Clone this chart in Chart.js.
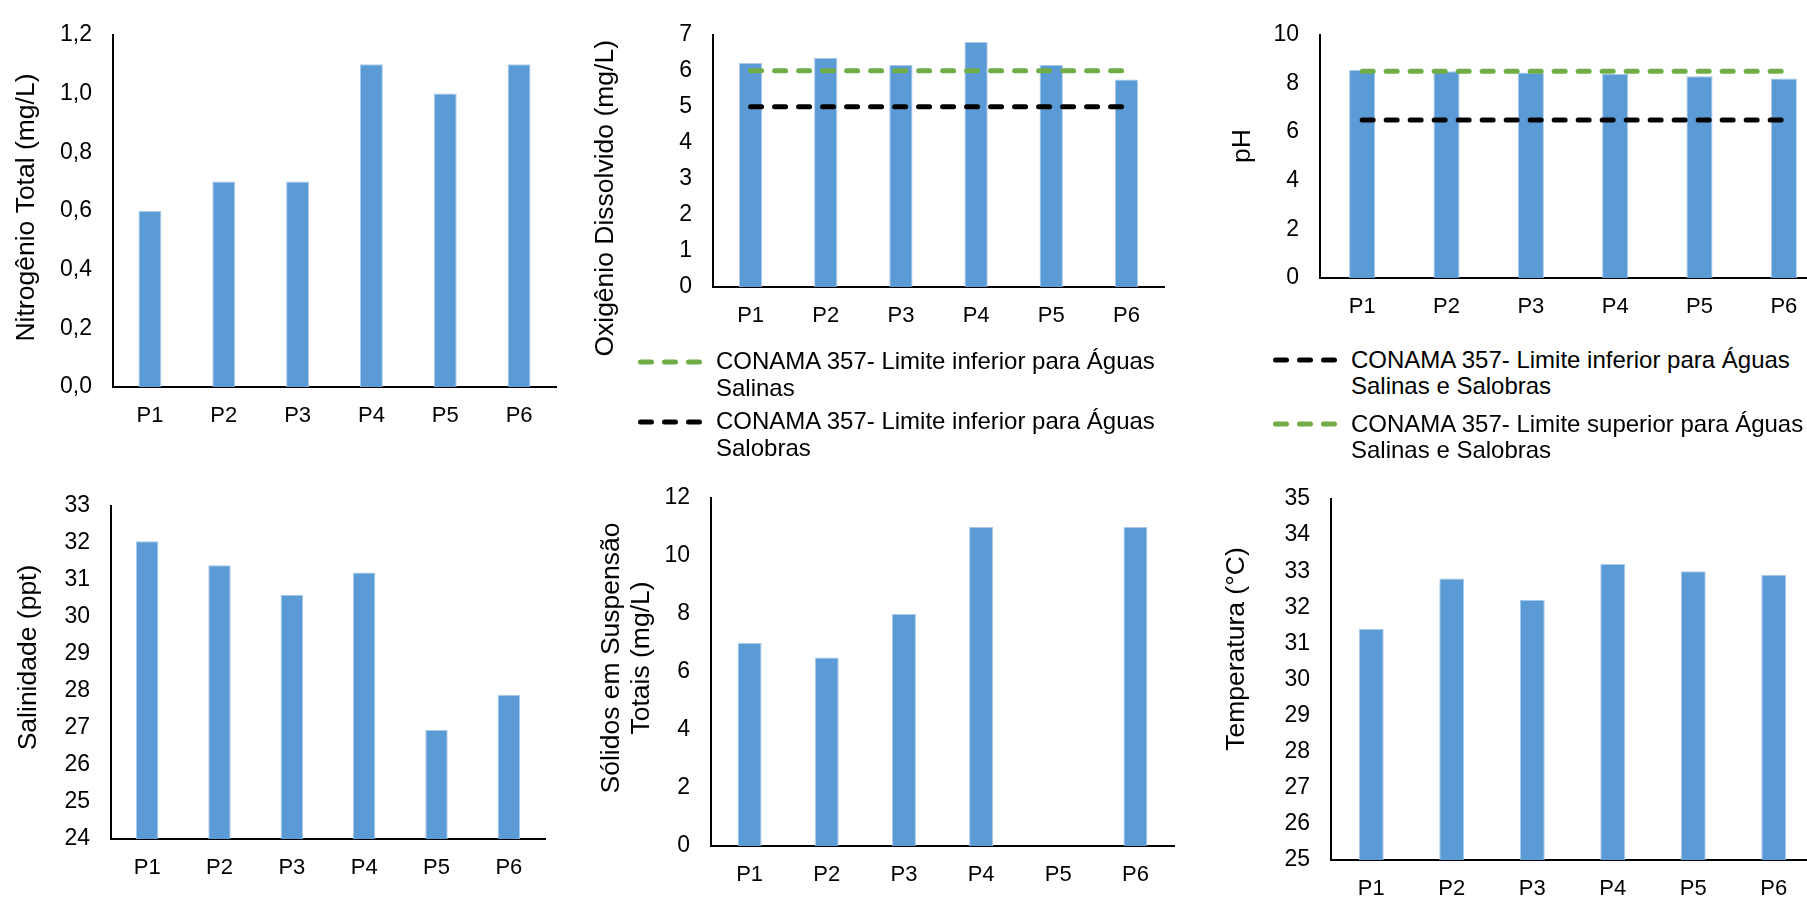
<!DOCTYPE html>
<html lang="pt">
<head>
<meta charset="utf-8">
<title>Parâmetros de qualidade da água – P1 a P6</title>
<script src="https://cdn.jsdelivr.net/npm/chart.js@4.4.1/dist/chart.umd.min.js"></script>
<style>
  html, body { margin: 0; padding: 0; background: #ffffff; }
  body {
    width: 1807px; height: 899px; overflow: hidden; position: relative;
    font-family: "Liberation Sans", Arial, sans-serif; color: #000;
  }
  canvas { position: absolute; }
  .leg-text { position: absolute; font-size: 24px; line-height: 26.7px; white-space: nowrap; }
  .leg-line { position: absolute; }
</style>
</head>
<body>
<script>
// Sampling points
const categories = ['P1', 'P2', 'P3', 'P4', 'P5', 'P6'];

// Measured values per point
const nitrogenioTotal    = [0.6, 0.7, 0.7, 1.1, 1.0, 1.1];
const oxigenioDissolvido = [6.22, 6.36, 6.16, 6.8, 6.16, 5.76];
const phMedido           = [8.55, 8.5, 8.45, 8.4, 8.3, 8.2];
const salinidade         = [32.05, 31.4, 30.6, 31.2, 26.95, 27.9];
const solidosSuspensos   = [7, 6.5, 8, 11, 0, 11];
const temperatura        = [31.4, 32.8, 32.2, 33.2, 33.0, 32.9];

// CONAMA 357 reference limits
const odLimiteSalinas  = [6, 6, 6, 6, 6, 6];
const odLimiteSalobras = [5, 5, 5, 5, 5, 5];
const phLimiteInferior = [6.5, 6.5, 6.5, 6.5, 6.5, 6.5];
const phLimiteSuperior = [8.5, 8.5, 8.5, 8.5, 8.5, 8.5];

// Y axis ranges: [min, max, step]
const eixoNitrogenio  = [0, 1.2, 0.2];
const eixoOxigenio    = [0, 7, 1];
const eixoPh          = [0, 10, 2];
const eixoSalinidade  = [24, 33, 1];
const eixoSolidos     = [0, 12, 2];
const eixoTemperatura = [25, 35, 1];

// Axis titles (one entry per text line)
const tituloNitrogenio  = ['Nitrogênio Total (mg/L)'];
const tituloOxigenio    = ['Oxigênio Dissolvido (mg/L)'];
const tituloPh          = ['pH'];
const tituloSalinidade  = ['Salinidade (ppt)'];
const tituloSolidos     = ['Sólidos em Suspensão', 'Totais (mg/L)'];
const tituloTemperatura = ['Temperatura (°C)'];

// Legend texts (one entry per text line)
const rotuloOdSalinas  = ['CONAMA 357- Limite inferior para Águas', 'Salinas'];
const rotuloOdSalobras = ['CONAMA 357- Limite inferior para Águas', 'Salobras'];
const rotuloPhInferior = ['CONAMA 357- Limite inferior para Águas', 'Salinas e Salobras'];
const rotuloPhSuperior = ['CONAMA 357- Limite superior para Águas', 'Salinas e Salobras'];

const BLUE = '#5B9BD5';
const GREEN = '#70AD47';
const BLACK = '#000000';
const FONT = '"Liberation Sans", Arial, sans-serif';
const DASH = [11, 13];

Chart.defaults.font.family = FONT;
Chart.defaults.color = '#000';

// Rotated y-axis title, placed by baseline x and centre y
const sideTitle = {
  id: 'sideTitle',
  afterDraw(chart) {
    const spec = chart.config.options.sideTitleSpec;
    if (!spec) return;
    const ctx = chart.ctx;
    ctx.save();
    ctx.fillStyle = '#000';
    ctx.font = '26.5px ' + FONT;
    ctx.textAlign = 'center';
    ctx.textBaseline = 'alphabetic';
    spec.lines.forEach((t, i) => {
      ctx.save();
      ctx.translate(spec.xs[i], spec.y);
      ctx.rotate(-Math.PI / 2);
      ctx.fillText(t, 0, 0);
      ctx.restore();
    });
    ctx.restore();
  }
};

function makePanel(p) {
  const canvas = document.createElement('canvas');
  canvas.width = p.cw; canvas.height = p.ch;
  canvas.style.left = p.cx + 'px'; canvas.style.top = p.cy + 'px';
  canvas.style.width = p.cw + 'px'; canvas.style.height = p.ch + 'px';
  document.body.appendChild(canvas);

  const datasets = [];
  (p.limits || []).forEach(l => datasets.push({
    type: 'line', label: l.label.join(' '), data: l.data,
    borderColor: l.color, backgroundColor: l.color, borderWidth: 5,
    borderDash: DASH, borderCapStyle: 'round', pointRadius: 0,
    fill: false, tension: 0, order: 1
  }));
  datasets.push({
    type: 'bar', label: p.title.join(' '), data: p.values,
    backgroundColor: BLUE, borderColor: '#a9c9ea', borderWidth: 1,
    barPercentage: 0.31, categoryPercentage: 1, order: 2
  });

  const [yMin, yMax, yStep] = p.axis;
  new Chart(canvas, {
    type: 'bar',
    data: { labels: categories, datasets },
    options: {
      responsive: false,
      animation: false,
      devicePixelRatio: 1,
      layout: { padding: { left: 0, top: p.T - p.cy, right: p.cx + p.cw - p.R, bottom: p.cy + p.ch - p.B - 40 } },
      plugins: { legend: { display: false }, tooltip: { enabled: false } },
      sideTitleSpec: { lines: p.title, xs: p.titleX.map(v => v - p.cx), y: p.titleY - p.cy },
      scales: {
        x: {
          grid: { display: false, drawTicks: false },
          border: { display: true, color: '#000', width: 2 },
          ticks: { padding: 16, font: { size: 22 }, color: '#000', maxRotation: 0, autoSkip: false },
          afterFit(s) { s.height = 40; }
        },
        y: {
          min: yMin, max: yMax,
          grid: { display: false, drawTicks: false },
          border: { display: true, color: '#000', width: 2 },
          ticks: {
            stepSize: yStep, padding: 21, font: { size: 23 }, color: '#000', autoSkip: false,
            callback: v => p.comma ? Number(v).toFixed(1).replace('.', ',') : String(Math.round(v))
          },
          afterFit(s) { s.width = p.L - p.cx; }
        }
      }
    },
    plugins: [sideTitle]
  });
}

function makeLegend(items, sampleLeft, textLeft) {
  items.forEach(it => {
    const svgNS = 'http://www.w3.org/2000/svg';
    const svg = document.createElementNS(svgNS, 'svg');
    svg.setAttribute('width', '66'); svg.setAttribute('height', '10');
    svg.setAttribute('class', 'leg-line');
    svg.style.left = sampleLeft + 'px';
    svg.style.top = (it.y - 5) + 'px';
    const ln = document.createElementNS(svgNS, 'line');
    ln.setAttribute('x1', '2.5'); ln.setAttribute('y1', '5');
    ln.setAttribute('x2', '63.5'); ln.setAttribute('y2', '5');
    ln.setAttribute('stroke', it.color); ln.setAttribute('stroke-width', '5');
    ln.setAttribute('stroke-dasharray', DASH.join(' '));
    ln.setAttribute('stroke-linecap', 'round');
    svg.appendChild(ln);
    document.body.appendChild(svg);

    const div = document.createElement('div');
    div.className = 'leg-text';
    div.style.left = textLeft + 'px';
    div.style.top = (it.y - 13.35) + 'px';
    it.label.forEach((t, i) => {
      if (i) div.appendChild(document.createElement('br'));
      div.appendChild(document.createTextNode(t));
    });
    document.body.appendChild(div);
  });
}

// Top row
makePanel({ cx: 0, cy: 0, cw: 580, ch: 445, L: 113, T: 27, R: 556, B: 387,
  values: nitrogenioTotal, axis: eixoNitrogenio, comma: true,
  title: tituloNitrogenio, titleX: [33.5], titleY: 207.5 });

makePanel({ cx: 585, cy: 0, cw: 620, ch: 372, L: 713, T: 21, R: 1164, B: 287,
  values: oxigenioDissolvido, axis: eixoOxigenio,
  limits: [{ label: rotuloOdSalinas, data: odLimiteSalinas, color: GREEN },
           { label: rotuloOdSalobras, data: odLimiteSalobras, color: BLACK }],
  title: tituloOxigenio, titleX: [612.5], titleY: 198.3 });

makePanel({ cx: 1210, cy: 0, cw: 636, ch: 340, L: 1320, T: 26, R: 1826, B: 278,
  values: phMedido, axis: eixoPh,
  limits: [{ label: rotuloPhSuperior, data: phLimiteSuperior, color: GREEN },
           { label: rotuloPhInferior, data: phLimiteInferior, color: BLACK }],
  title: tituloPh, titleX: [1250], titleY: 146 });

// Bottom row
makePanel({ cx: 0, cy: 460, cw: 580, ch: 439, L: 111, T: 506, R: 545, B: 839,
  values: salinidade, axis: eixoSalinidade,
  title: tituloSalinidade, titleX: [36], titleY: 657.5 });

makePanel({ cx: 585, cy: 460, cw: 620, ch: 439, L: 711, T: 498, R: 1174, B: 846,
  values: solidosSuspensos, axis: eixoSolidos,
  title: tituloSolidos, titleX: [619, 649], titleY: 658 });

makePanel({ cx: 1210, cy: 460, cw: 624, ch: 450, L: 1331, T: 499, R: 1814, B: 860,
  values: temperatura, axis: eixoTemperatura,
  title: tituloTemperatura, titleX: [1244], titleY: 649 });

// Legends for the reference-limit lines
makeLegend([
  { label: rotuloOdSalinas, color: GREEN, y: 361.7 },
  { label: rotuloOdSalobras, color: BLACK, y: 421.7 }
], 638, 716);

makeLegend([
  { label: rotuloPhInferior, color: BLACK, y: 360 },
  { label: rotuloPhSuperior, color: GREEN, y: 424 }
], 1273, 1351);
</script>
</body>
</html>
